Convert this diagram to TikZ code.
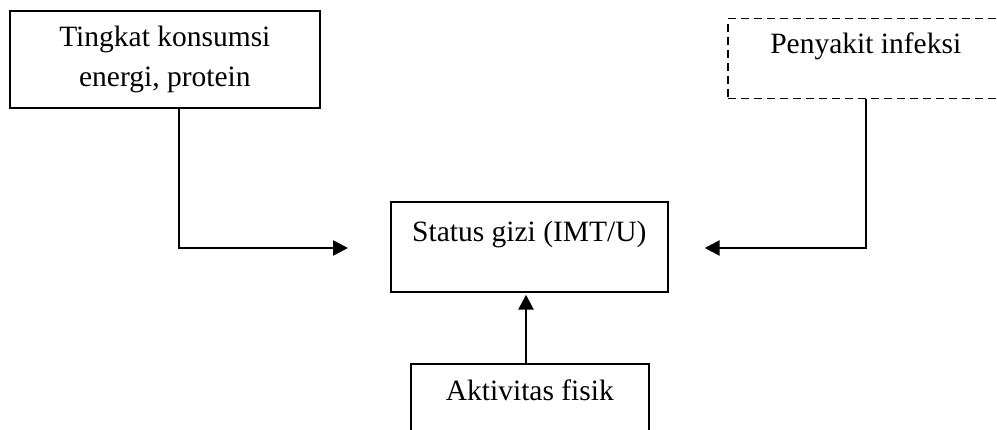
\documentclass[tikz,border=0pt]{standalone}
\usepackage{fontspec}
\setmainfont{Liberation Serif}
\usetikzlibrary{arrows.meta}
\begin{document}
\begin{tikzpicture}[x=1pt,y=1pt,
  box/.style={draw, line width=1.7pt, inner sep=0pt, align=center,
    font=\fontsize{29.5}{40}\selectfont},
  dbox/.style={box, line width=1.5pt, dash pattern=on 8pt off 5pt},
  conn/.style={line width=2.6pt, -{Triangle[length=15pt,width=15pt]}}]
\useasboundingbox (0,0) rectangle (997,-430);
\clip (0,0) rectangle (997,-430);
\fill[white] (0,0) rectangle (997,-430);
% boxes
\node[box, anchor=north west, minimum width=310pt, minimum height=97pt] (tl) at (9,-10)
  {Tingkat konsumsi\\energi, protein};
\node[dbox, anchor=north west, minimum width=276pt, text height=35pt, text depth=45pt] (pi) at (727,-18)
  {Penyakit infeksi};
\node[box, anchor=north west, minimum width=277pt, text height=40pt, text depth=50pt] (sg) at (390,-201)
  {Status gizi (IMT/U)};
\node[box, anchor=north west, minimum width=238pt, text height=37pt, text depth=43pt] (af) at (410,-363)
  {Aktivitas fisik};
% connector x positions
\coordinate (lx) at (179,0);
\coordinate (rx) at (866,0);
\coordinate (bx) at (526,0);
\coordinate (hy) at (0,-248);
% connectors
\draw[conn, shorten >=42pt] (tl.south -| lx) |- (sg.west |- hy);
\draw[conn, shorten >=36pt] (pi.south -| rx) |- (sg.east |- hy);
\draw[conn, shorten >=2pt] (af.north -| bx) -- (sg.south -| bx);
\end{tikzpicture}
\end{document}
